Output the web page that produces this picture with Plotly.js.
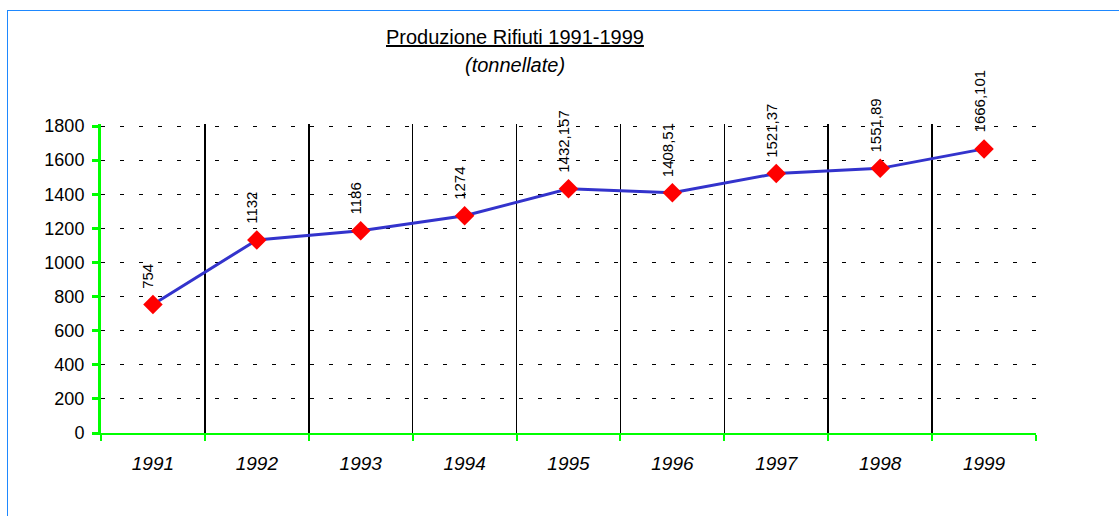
<!DOCTYPE html>
<html>
<head>
<meta charset="utf-8">
<script src="https://cdn.plot.ly/plotly-3.0.1.min.js"></script>
<style>
html,body{margin:0;padding:0;background:#fff;}
#wrap{position:relative;width:1119px;height:516px;overflow:hidden;}
#chart{position:absolute;left:0;top:0;width:1119px;height:516px;}
#frame{position:absolute;left:7px;top:10px;width:1200px;height:600px;border-left:1px solid #1E88FF;border-top:1px solid #1E88FF;pointer-events:none;}
</style>
</head>
<body>
<div id="wrap">
<div id="chart"></div>
<div id="frame"></div>
</div>
<script>
var years = ['1991','1992','1993','1994','1995','1996','1997','1998','1999'];
var values = [754, 1132, 1186, 1274, 1432.157, 1408.51, 1521.37, 1551.89, 1666.101];
var valueLabels = ['754','1132','1186','1274','1432,157','1408,51','1521,37','1551,89','1666,101'];
var yTicks = [0,200,400,600,800,1000,1200,1400,1600,1800];

var trace = {
  x: years, y: values, type: 'scatter', mode: 'lines+markers',
  line: {color: '#3333CC', width: 3},
  marker: {symbol: 'diamond', size: 15, color: '#FF0000'},
  hoverinfo: 'x+y'
};

var annotations = years.map(function(yr, i){
  return {x: i, y: values[i], xref: 'x', yref: 'y', text: valueLabels[i],
    textangle: -90, showarrow: false, xanchor: 'center', yanchor: 'bottom',
    xshift: -5, yshift: 14,
    font: {family: 'Liberation Sans, Arial, sans-serif', size: 15, color: '#000'}};
});
annotations.push({xref: 'paper', yref: 'paper', x: (515-101)/935, y: 1, yshift: 59,
  text: '<i>(tonnellate)</i>', showarrow: false, xanchor: 'center', yanchor: 'middle',
  font: {family: 'Liberation Sans, Arial, sans-serif', size: 20, color: '#000'}});
annotations.push({xref: 'paper', yref: 'paper', x: (515-101)/935, y: 1, yshift: 87,
  text: '<u>Produzione Rifiuti 1991-1999</u>', showarrow: false, xanchor: 'center', yanchor: 'middle',
  font: {family: 'Liberation Sans, Arial, sans-serif', size: 20, color: '#000'}});

var layout = {
  width: 1119, height: 516,
  margin: {l: 101, r: 83, t: 124, b: 83},
  paper_bgcolor: 'rgba(0,0,0,0)', plot_bgcolor: '#fff',
  showlegend: false,
  font: {family: 'Liberation Sans, Arial, sans-serif', color: '#000'},
  xaxis: {
    type: 'category', categoryorder: 'array', categoryarray: years,
    range: [-0.5, years.length - 0.5], autorange: false,
    tickson: 'boundaries', showgrid: true, gridcolor: '#000', gridwidth: 1.5,
    showline: true, linecolor: '#00FF00', linewidth: 2,
    ticks: 'outside', ticklen: 6, tickwidth: 2, tickcolor: '#00FF00',
    tickangle: 0, ticklabelstandoff: 12,
    tickfont: {size: 19, color: '#000', style: 'italic'},
    zeroline: false, fixedrange: true
  },
  yaxis: {
    range: [0, 1812], autorange: false, tickvals: yTicks, ticktext: yTicks.map(String),
    showgrid: true, gridcolor: '#000', gridwidth: 1, griddash: '4px,15px',
    showline: true, linecolor: '#00FF00', linewidth: 3,
    ticks: 'outside', ticklen: 6, tickwidth: 3, tickcolor: '#00FF00',
    ticklabelstandoff: 4,
    tickfont: {size: 18, color: '#000'},
    zeroline: false, fixedrange: true
  },
  annotations: annotations
};

Plotly.newPlot('chart', [trace], layout, {displayModeBar: false, staticPlot: true});
</script>
</body>
</html>
